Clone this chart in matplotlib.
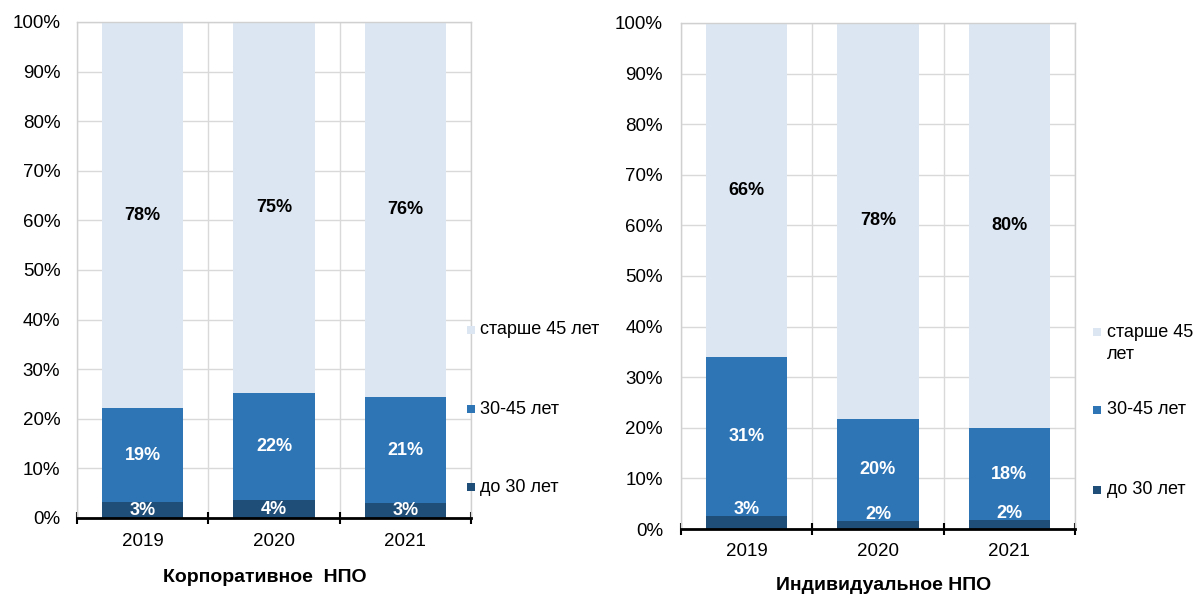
import matplotlib
matplotlib.use('Agg')
import matplotlib.pyplot as plt
from matplotlib.patches import Rectangle

plt.rcParams['font.family'] = ['Liberation Sans', 'DejaVu Sans']

# ---------------- data ----------------
years = ['2019', '2020', '2021']
series_names = ['до 30 лет', '30-45 лет', 'старше 45 лет']
legend_labels_right = ['до 30 лет', '30-45 лет', 'старше 45\nлет']

corp_under30 = [3.2, 3.6, 3.1]
corp_30_45 = [18.9, 21.7, 21.2]
corp_over45 = [77.9, 74.7, 75.7]

ind_under30 = [2.6, 1.6, 1.7]
ind_30_45 = [31.3, 20.2, 18.3]
ind_over45 = [66.1, 78.2, 80.0]

title_left = 'Корпоративное  НПО'
title_right = 'Индивидуальное НПО'

colors = ['#1F4E79', '#2E75B6', '#DCE6F2']
text_colors = ['white', 'white', 'black']

W, H = 1202, 595
fig = plt.figure(figsize=(W / 100, H / 100), dpi=100)


def fx(px):
    return px / W


def fy(py):
    return 1 - py / H


def make_axes(left, right, top, bottom):
    return fig.add_axes([fx(left), fy(bottom), fx(right) - fx(left), fy(top) - fy(bottom)])


def draw(ax, parts, dark_offset, tick_pad_x, tick_pad_y):
    x = list(range(len(years)))
    bottoms = [0.0] * len(years)
    for si, (vals, color, tc) in enumerate(zip(parts, colors, text_colors)):
        ax.bar(x, vals, bottom=bottoms, width=0.62, color=color, zorder=2, linewidth=0)
        for xi, v, b in zip(x, vals, bottoms):
            if si == 0 and dark_offset is not None:
                ypos = v + dark_offset
            else:
                ypos = b + v / 2
            ax.text(xi, ypos, f'{round(v)}%', ha='center', va='center',
                    color=tc, fontsize=13, fontweight='bold', zorder=3)
        bottoms = [b + v for b, v in zip(bottoms, vals)]

    ax.set_xlim(-0.5, 2.5)
    ax.set_ylim(0, 100)
    ax.set_yticks(range(0, 101, 10))
    ax.set_yticklabels([f'{t}%' for t in range(0, 101, 10)], fontsize=13.5, color='#000000')
    ax.set_xticks(x)
    ax.set_xticklabels(years, fontsize=13.5)
    ax.set_xticks([-0.5, 0.5, 1.5, 2.5], minor=True)
    ax.tick_params(axis='x', which='major', length=0, pad=tick_pad_x)
    ax.tick_params(axis='x', which='minor', direction='inout', length=8, width=1.5, color='black')
    ax.tick_params(axis='y', length=0, pad=tick_pad_y)
    ax.set_axisbelow(True)
    ax.yaxis.grid(True, color='#D9D9D9', linewidth=1)
    ax.xaxis.grid(True, which='minor', color='#D9D9D9', linewidth=1)
    ax.xaxis.grid(False, which='major')
    for s in ['left', 'top', 'right']:
        ax.spines[s].set_color('#D0D0D0')
        ax.spines[s].set_linewidth(1)
    ax.spines['bottom'].set_color('black')
    ax.spines['bottom'].set_linewidth(2)
    ax.spines['bottom'].set_zorder(4)


def legend(x_marker, x_text, ys, labels):
    # ys: pixel rows for top-most (старше), middle, bottom entries
    for y, lab, col in zip(ys, labels[::-1], colors[::-1]):
        fig.add_artist(Rectangle((fx(x_marker), fy(y + 4)), 8 / W, 8 / H,
                                 transform=fig.transFigure, facecolor=col, edgecolor='none'))
        if '\n' in lab:
            fig.text(fx(x_text), fy(y - 8), lab, ha='left', va='top', fontsize=13,
                     linespacing=1.35)
        else:
            fig.text(fx(x_text), fy(y), lab, ha='left', va='center', fontsize=13)


ax1 = make_axes(77, 471, 22, 518)
draw(ax1, [corp_under30, corp_30_45, corp_over45], None, 11, 12)
ax2 = make_axes(681, 1075, 23, 529)
draw(ax2, [ind_under30, ind_30_45, ind_over45], 1.3, 10, 13)

legend(467, 480, [330, 409, 487], series_names)
legend(1093, 1107, [332, 410, 490], legend_labels_right)

fig.text(fx(265), fy(578), title_left, ha='center', va='center', fontsize=14, fontweight='bold')
fig.text(fx(884), fy(585), title_right, ha='center', va='center', fontsize=14, fontweight='bold')

fig.savefig('out.png', dpi=100)
